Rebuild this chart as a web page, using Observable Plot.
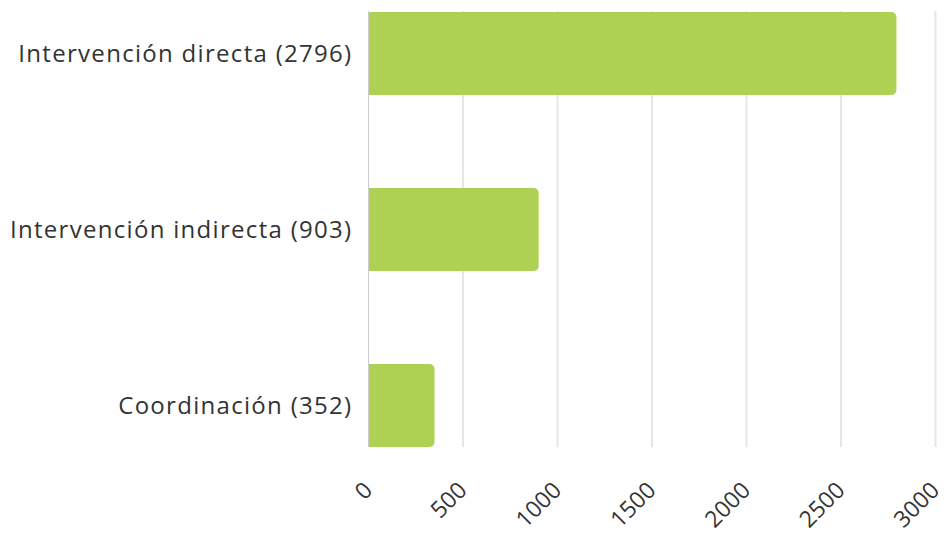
<!DOCTYPE html>
<html>
<head>
<meta charset="utf-8">
<script src="https://cdn.jsdelivr.net/npm/d3@7"></script>
<script src="https://cdn.jsdelivr.net/npm/@observablehq/plot@0.6"></script>
<style>
  html, body { margin: 0; padding: 0; background: #fff; }
  #chart svg { display: block; }
  #chart svg g[aria-label="y-axis tick label"] text { letter-spacing: 1.3px; }
</style>
</head>
<body>
<div id="chart"></div>
<script>
const categories = ["Intervención directa", "Intervención indirecta", "Coordinación"];
const values = [2796, 903, 352];
const xTicks = [0, 500, 1000, 1500, 2000, 2500, 3000];

const data = categories.map((c, i) => ({label: `${c} (${values[i]})`, value: values[i]}));
const order = data.map(d => d.label);

const chart = Plot.plot({
  width: 952,
  height: 538,
  marginTop: 11,
  marginBottom: 91,
  marginLeft: 368,
  marginRight: 17,
  style: {fontFamily: "'Open Sans', sans-serif", fontSize: "24px", color: "#333", background: "#fff"},
  x: {domain: [0, 3000], ticks: xTicks},
  y: {domain: order, paddingInner: 0.53, paddingOuter: 0, label: null},
  marks: [
    Plot.ruleX(xTicks.filter(t => t > 0), {stroke: "#e6e6e6", strokeWidth: 2}),
    Plot.barX(data, {y: "label", x: "value", fill: "#aed153", rx: 5}),
    Plot.barX(data, {y: "label", x1: 0, x2: d => Math.min(d.value, 100), fill: "#aed153"}),
    Plot.ruleX([0], {stroke: "#ccc", strokeWidth: 1}),
    Plot.axisY({tickSize: 0, tickPadding: 16, label: null, fontSize: 24, fill: "#333"}),
    Plot.axisX({ticks: xTicks, tickSize: 0, tickRotate: -45, tickPadding: 39, label: null, fontSize: 23, fill: "#333", tickFormat: d => String(d)})
  ]
});
document.getElementById("chart").appendChild(chart);
</script>
</body>
</html>
